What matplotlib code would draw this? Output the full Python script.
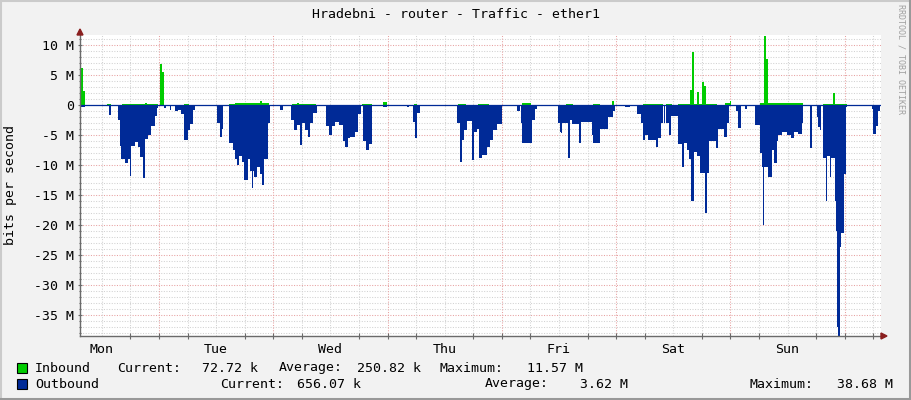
import numpy as np
import matplotlib.pyplot as plt
from matplotlib.patches import Rectangle, Polygon
from matplotlib.lines import Line2D

# time in hours since Monday 00:00, rates in Mbit/s (value holds until next time)
out_hours = [7.4, 8.5, 13.5, 13.9, 15.4, 15.75, 16.1, 16.8, 17.5, 17.85, 18.06, 18.9, 19.6, 19.95,
             20.7, 21.0, 21.7, 22.4, 23.1, 23.5, 23.8, 25.05, 25.5, 26.3, 26.6, 27.4, 28.0, 28.7,
             29.25, 30.1, 30.45, 31.15, 31.5, 36.1, 36.75, 37.2, 37.5, 38.7, 39.6, 39.95, 40.3,
             40.8, 41.4, 41.9, 42.75, 43.1, 43.45, 43.8, 44.0, 44.5, 45.2, 45.55, 46.0, 46.8, 47.3,
             49.4, 49.95, 51.7, 52.3, 52.9, 53.6, 54.1, 54.65, 55.35, 55.7, 56.4, 57.1, 59.05,
             59.7, 60.25, 60.95, 61.8, 62.7, 63.05, 63.75, 64.1, 65.15, 65.85, 66.35, 66.85, 67.45,
             68.1, 68.7, 71.0, 71.9, 76.1, 76.5, 77.4, 77.8, 78.25, 78.8, 86.65, 87.2, 87.6, 88.05,
             88.6, 89.65, 90.2, 90.7, 91.2, 91.75, 92.8, 93.5, 94.2, 94.95, 96.0, 99.1, 99.8, 100.0,
             100.3, 102.25, 102.95, 103.3, 107.85, 108.2, 108.4, 108.7, 109.8, 110.3, 110.8, 112.25,
             112.6, 114.85, 115.2, 116.6, 118.35, 119.3, 119.75, 121.9, 123.0, 124.45, 125.15,
             125.65, 126.15, 126.7, 128.3, 128.8, 129.5, 129.85, 129.95, 130.25, 130.5, 131.0,
             131.6, 133.05, 133.8, 134.25, 134.8, 135.3, 135.7, 136.35, 137.05, 137.6, 138.7,
             139.15, 139.45, 140.95, 141.4, 142.7, 143.2, 143.75, 145.2, 145.6, 146.3, 147.1, 147.4,
             149.15, 150.2, 150.65, 150.8, 151.05, 151.95, 152.65, 153.2, 153.7, 154.05, 154.75,
             155.8, 156.65, 157.35, 158.25, 158.95, 159.3, 160.75, 161.1, 162.1, 162.4, 162.8,
             163.1, 163.35, 164.0, 164.35, 164.9, 165.2, 165.95, 166.2, 166.45, 166.65, 166.95,
             167.2, 167.8, 168.25, 168.4, 170.5, 171.0, 173.65, 174.0, 174.55, 175.05]
out_mbps = [0.4, 0.0, 1.7, 0.0, 2.5, 6.9, 9.0, 9.7, 9.0, 11.9, 6.9, 6.2, 7.0, 8.7,
            12.1, 5.6, 5.0, 3.5, 1.8, 0.5, 0.0, 0.5, 0.0, 0.8, 0.0, 1.0, 0.8, 1.5,
            5.8, 4.2, 3.1, 0.8, 0.0, 3.0, 5.3, 4.0, 0.0, 6.4, 7.5, 9.0, 10.0,
            8.5, 9.5, 12.5, 9.0, 11.0, 13.9, 11.0, 12.0, 10.3, 11.5, 13.3, 9.0, 3.0, 0.0,
            0.8, 0.0, 2.5, 4.2, 3.3, 6.7, 3.0, 4.2, 5.3, 3.0, 1.4, 0.0, 3.5,
            5.0, 3.5, 2.8, 3.3, 6.0, 7.0, 5.5, 5.3, 4.5, 1.5, 0.0, 6.0, 7.5,
            6.5, 0.0, 0.3, 0.0, 0.4, 0.0, 2.8, 5.5, 1.4, 0.0, 3.0, 9.5, 5.8, 4.2,
            2.7, 9.2, 4.5, 4.0, 8.8, 8.4, 7.0, 5.8, 4.2, 3.1, 0.0, 1.0, 0.0, 3.0,
            6.3, 2.5, 0.6, 0.0, 3.0, 4.5, 4.7, 3.0, 8.8, 2.5, 3.2, 6.3,
            2.8, 5.0, 6.3, 4.0, 2.0, 1.0, 0.0, 0.3, 0.0, 1.5, 3.0,
            5.8, 5.0, 5.8, 7.0, 5.5, 3.0, 0.0, 3.0, 0.0, 3.0, 5.0,
            1.9, 6.5, 10.4, 6.3, 7.5, 9.0, 16.0, 7.8, 8.5, 11.4, 18.0,
            11.4, 6.0, 7.2, 4.0, 5.3, 3.0, 0.0, 1.0, 3.9, 0.0, 0.7, 0.0,
            3.3, 8.0, 10.3, 20.0, 10.3, 12.0, 7.5, 9.7, 6.0, 5.0, 4.5,
            5.0, 5.5, 4.5, 4.8, 3.0, 0.0, 7.2, 0.0, 2.0, 3.7, 4.2,
            0.0, 8.8, 16.0, 8.5, 12.0, 8.8, 16.0, 21.0, 37.0, 38.68, 23.6,
            21.4, 11.5, 0.3, 0.0, 0.2, 0.0, 0.6, 4.8, 3.5, 1.0]

in_hours = [7.4, 8.0, 8.45, 13.1, 13.9, 16.3, 21.0, 21.4, 23.8, 24.3, 24.65, 24.95, 29.2, 30.3,
            38.7, 40.0, 45.2, 45.6, 47.0, 52.0, 53.0, 53.4, 57.0, 66.7, 68.7, 71.05, 71.85,
            77.6, 78.2, 86.8, 88.5, 91.0, 93.3, 100.3, 102.2, 109.5, 110.9, 115.2, 116.6,
            119.2, 119.45, 125.7, 129.9, 130.5, 131.7, 133.05, 135.5, 135.95, 136.3, 137.0,
            137.3, 137.95, 138.45, 138.9, 141.1, 142.85, 143.9, 144.2, 150.3, 151.1, 151.5,
            151.8, 159.3, 163.4, 165.6, 166.0, 168.4, 175.1]
in_mbps = [6.1, 2.3, 0.0, 0.15, 0.0, 0.22, 0.3, 0.22, 0.0, 6.8, 5.5, 0.0, 0.15, 0.0,
           0.22, 0.3, 0.6, 0.3, 0.0, 0.22, 0.4, 0.22, 0.0, 0.22, 0.0, 0.55, 0.0,
           0.15, 0.0, 0.22, 0.0, 0.22, 0.0, 0.3, 0.0, 0.22, 0.0, 0.22, 0.0,
           0.6, 0.0, 0.22, 0.0, 0.15, 0.0, 0.22, 2.5, 8.9, 0.22, 2.2,
           0.22, 3.9, 3.2, 0.22, 0.0, 0.3, 0.7, 0.0, 0.4, 11.57, 7.6,
           0.3, 0.0, 0.22, 2.0, 0.22, 0.0, 0.07]

day_names = ['Mon', 'Tue', 'Wed', 'Thu', 'Fri', 'Sat', 'Sun']
y_ticks = [10, 5, 0, -5, -10, -15, -20, -25, -30, -35]
y_labels = ['10 M', '5 M', '0', '-5 M', '-10 M', '-15 M', '-20 M', '-25 M', '-30 M', '-35 M']

legend_in = [('Current:', 117, 'left'), ('72.72 k', 258, 'right'), ('Average:', 279, 'left'),
             ('250.82 k', 421, 'right'), ('Maximum:', 440, 'left'), ('11.57 M', 583, 'right')]
legend_out = [('Current:', 220, 'left'), ('656.07 k', 361, 'right'), ('Average:', 485, 'left'),
              ('3.62 M', 628, 'right'), ('Maximum:', 749, 'left'), ('38.68 M', 893, 'right')]

t_start, t_end = 7.41, 175.41
y_min, y_max = -38.5, 11.67

W, H = 911, 400
GREEN = '#00CC00'
BLUE = '#002A97'
FONT = 'DejaVu Sans Mono'
plt.rcParams['font.family'] = FONT

fig = plt.figure(figsize=(W / 100, H / 100), dpi=100, facecolor='#F2F2F2')

# plot area in pixels: x 80..881, y 35..336
ax = fig.add_axes([80 / W, 1 - 336 / H, 801 / W, 301 / H])
ax.set_facecolor('white')
ax.set_xlim(t_start, t_start + 168 * 801 / 800)
ax.set_ylim(y_min, y_max)

# grid
for v in range(-38, 12):
    c = '#e7a1a1' if v % 5 == 0 else '#d2d2d2'
    ax.axhline(v, color=c, lw=0.75, ls=(0, (1, 1.5)), zorder=1)
for h in np.arange(12, 180, 6):
    c = '#e7a1a1' if h % 24 == 0 else '#d2d2d2'
    ax.axvline(h, color=c, lw=0.75, ls=(0, (1, 1.5)), zorder=1)

t_out = np.append(out_hours, t_end)
v_out = -np.append(out_mbps, out_mbps[-1])
t_in = np.append(in_hours, t_end)
v_in = np.append(in_mbps, in_mbps[-1])

ax.fill_between(t_out, v_out, 0, step='post', color=BLUE, lw=0, zorder=2)
ax.fill_between(t_in, v_in, 0, step='post', color=GREEN, lw=0, zorder=3)
ax.axhline(0, color=BLUE, lw=0.9, zorder=4)

# axes and ticks
for s in ['top', 'right']:
    ax.spines[s].set_visible(False)
for s in ['left', 'bottom']:
    ax.spines[s].set_color('#6a6a6a')
    ax.spines[s].set_linewidth(1.0)
    ax.spines[s].set_zorder(5)

ax.set_yticks(y_ticks)
ax.set_yticklabels(y_labels)
ax.set_yticks(np.arange(-38, 12, 1), minor=True)
ax.set_xticks(np.arange(12, 168, 24))
ax.set_xticklabels(day_names)
ax.set_xticks(np.arange(12, 180, 6), minor=True)
ax.tick_params(axis='y', which='major', length=3, width=0.8, color='#6a6a6a', direction='inout',
               pad=3, labelsize=9.5)
ax.tick_params(axis='y', which='minor', length=2, width=0.8, color='#6a6a6a', direction='inout')
ax.tick_params(axis='x', which='major', length=0, pad=5, labelsize=9.5)
ax.tick_params(axis='x', which='minor', length=4, width=0.8, color='#6a6a6a', direction='inout')

# arrows at axis ends
arrow_c = '#8a1f1f'
fig.patches.append(Polygon([[77 / W, 1 - 35 / H], [83 / W, 1 - 35 / H], [80 / W, 1 - 29 / H]],
                           closed=True, transform=fig.transFigure, color=arrow_c, zorder=10))
fig.patches.append(Polygon([[881 / W, 1 - 333 / H], [881 / W, 1 - 339 / H], [887 / W, 1 - 336 / H]],
                           closed=True, transform=fig.transFigure, color=arrow_c, zorder=10))

# texts
fig.text(0.5, 1 - 14 / H, 'Hradebni - router - Traffic - ether1', ha='center', va='center',
         fontsize=9.5, family=FONT)
fig.text(11 / W, 1 - 185 / H, 'bits per second', rotation=90, ha='center', va='center',
         fontsize=9.5, family=FONT)
fig.text(901 / W, 1 - 4 / H, 'RRDTOOL / TOBI OETIKER', rotation=270, ha='center', va='top',
         fontsize=6, color='#a0a0a0', family=FONT)

# legend
for y_c, color, name, items in [(368, GREEN, 'Inbound', legend_in),
                                (384, BLUE, 'Outbound', legend_out)]:
    fig.patches.append(Rectangle((17 / W, 1 - (y_c + 5) / H), 10 / W, 10 / H,
                                 transform=fig.transFigure, facecolor=color,
                                 edgecolor='black', lw=0.8))
    fig.text(35 / W, 1 - y_c / H, name, ha='left', va='center', fontsize=9.5, family=FONT)
    for txt, x, ha in items:
        fig.text(x / W, 1 - y_c / H, txt, ha=ha, va='center', fontsize=9.5, family=FONT)

# shaded frame
fig.add_artist(Line2D([0, 1], [1 - 1 / H, 1 - 1 / H], transform=fig.transFigure, color='#cbcbcb', lw=1.5))
fig.add_artist(Line2D([1 / W, 1 / W], [0, 1], transform=fig.transFigure, color='#cbcbcb', lw=1.5))
fig.add_artist(Line2D([0, 1], [1.5 / H, 1.5 / H], transform=fig.transFigure, color='#999999', lw=2.2))
fig.add_artist(Line2D([1 - 1.5 / W, 1 - 1.5 / W], [0, 1], transform=fig.transFigure, color='#999999', lw=2.2))

fig.savefig('out.png', dpi=100, facecolor=fig.get_facecolor())
